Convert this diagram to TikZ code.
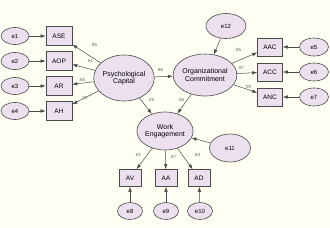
\documentclass[tikz,border=0pt]{standalone}
\usepackage{fontspec}
\setmainfont{Liberation Sans}
\usetikzlibrary{shapes.geometric, arrows.meta, positioning}
\definecolor{semfill}{HTML}{ECE0EE}
\definecolor{semline}{HTML}{4A4A4A}
\definecolor{sembg}{HTML}{FEFEF2}
\tikzset{
  obsbox/.style={
    draw=semline, fill=semfill, rectangle, line width=0.6pt,
    minimum width=26pt, minimum height=19pt, inner sep=0pt,
    font=\fontsize{6.5}{7}\selectfont
  },
  smallbox/.style={obsbox, minimum width=22pt, minimum height=17pt},
  errnode/.style={
    draw=semline, fill=semfill, ellipse, line width=0.6pt,
    minimum width=28pt, minimum height=17pt, inner sep=0pt,
    font=\fontsize{6}{7}\selectfont
  },
  latnode/.style={
    draw=semline, fill=semfill, ellipse, line width=0.6pt,
    inner sep=0pt, align=center, font=\fontsize{7}{7.5}\selectfont
  },
  patharrow/.style={-{Latex[length=5pt,width=3.5pt]}, color=semline, line width=0.5pt},
  coeff/.style={font=\fontsize{4.5}{5}\selectfont, text=black!60, inner sep=0pt}
}

\begin{document}
\begin{tikzpicture}[x=1pt, y=-1pt]
\fill[sembg] (0,0) rectangle (330,228);
\useasboundingbox (0,0) rectangle (330,228);

% latent variables
\node[latnode, minimum width=53pt, minimum height=46pt] (pc) at (124,78) {Psychological\\Capital};
\node[latnode, minimum width=51pt, minimum height=42pt] (oc) at (205,75) {Organizational\\Commitment};
\node[latnode, minimum width=48pt, minimum height=38pt] (we) at (165,131) {Work\\Engagement};

% indicators of psychological capital
\node[obsbox] (ase) at (59,36)  {ASE};
\node[obsbox] (aop) at (59,61)  {AOP};
\node[obsbox] (ar)  at (59,86)  {AR};
\node[obsbox] (ah)  at (59,111) {AH};
\node[errnode] (e1) at (15,36)  {e1};
\node[errnode] (e2) at (15,61)  {e2};
\node[errnode] (e3) at (15,86)  {e3};
\node[errnode] (e4) at (15,111) {e4};

% indicators of organizational commitment
\node[obsbox, minimum width=25pt, minimum height=18pt] (aac) at (270,47) {AAC};
\node[obsbox, minimum width=25pt, minimum height=18pt] (acc) at (270,72) {ACC};
\node[obsbox, minimum width=25pt, minimum height=18pt] (anc) at (270,97) {ANC};
\node[errnode, minimum width=29pt, minimum height=18pt] (e5) at (314,47) {e5};
\node[errnode, minimum width=29pt, minimum height=18pt] (e6) at (314,72) {e6};
\node[errnode, minimum width=29pt, minimum height=18pt] (e7) at (314,97) {e7};

% indicators of work engagement
\node[smallbox] (av) at (130,178) {AV};
\node[smallbox] (aa) at (166,178) {AA};
\node[smallbox] (ad) at (199,178) {AD};
\node[errnode, minimum width=25pt] (e8)  at (130,211) {e8};
\node[errnode, minimum width=25pt] (e9)  at (166,211) {e9};
\node[errnode, minimum width=25pt] (e10) at (200,211) {e10};

% disturbances
\node[errnode, minimum width=40pt, minimum height=25pt] (e12) at (226,26)  {e12};
\node[errnode, minimum width=41pt, minimum height=28pt] (e11) at (230,148) {e11};

% paths
\foreach \e/\o in {e1/ase, e2/aop, e3/ar, e4/ah, e5/aac, e6/acc, e7/anc, e8/av, e9/aa, e10/ad}
  \draw[patharrow] (\e) -- (\o);
\foreach \o in {ase, aop, ar, ah}
  \draw[patharrow] (pc) -- (\o);
\foreach \o in {aac, acc, anc}
  \draw[patharrow] (oc) -- (\o);
\foreach \o in {av, aa, ad}
  \draw[patharrow] (we) -- (\o);
\draw[patharrow] (pc)  -- (oc);
\draw[patharrow] (pc)  -- (we);
\draw[patharrow] (oc)  -- (we);
\draw[patharrow] (e12) -- (oc);
\draw[patharrow] (e11) -- (we);

% standardized coefficients
\node[coeff] (c-ase) at (94,45)  {.85};
\node[coeff] (c-aop) at (90,61)  {.61};
\node[coeff] (c-ar)  at (82,80)  {.85};
\node[coeff] (c-ah)  at (84,98)  {.78};
\node[coeff] (c-oc)  at (160,70) {.86};
\node[coeff] (c-pw)  at (151,100) {.29};
\node[coeff] (c-ow)  at (181,100) {.56};
\node[coeff] (c-aac) at (238,50) {.85};
\node[coeff] (c-acc) at (241,68) {.87};
\node[coeff] (c-anc) at (248,87) {.90};
\node[coeff] (c-av)  at (138,155) {.82};
\node[coeff] (c-aa)  at (173,157) {.87};
\node[coeff] (c-ad)  at (197,155) {.83};
\end{tikzpicture}
\end{document}
